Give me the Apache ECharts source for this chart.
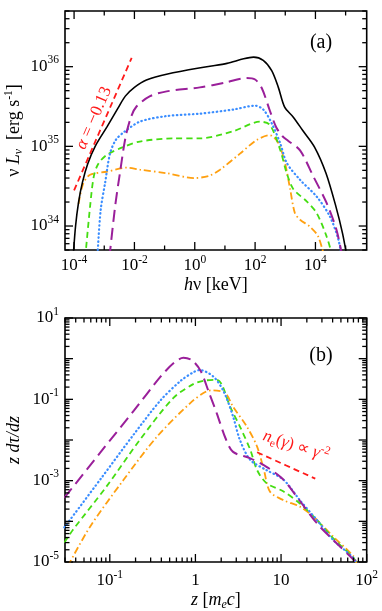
<!DOCTYPE html>
<html>
<head>
<meta charset="utf-8">
<script src="https://cdn.jsdelivr.net/npm/echarts@6/dist/echarts.min.js"></script>
<style>
  html, body { margin: 0; padding: 0; background: #fff; }
  #chart { width: 382px; height: 611px; }
</style>
</head>
<body>
<div id="chart"></div>
<script>
// ---------- panel (a): nu L_nu [erg/s] vs h nu [keV] ----------
var specBlack = [[9.3e-5,4.0e33],[1.12e-4,1.0e34],[1.41e-4,2.0e34],[1.9e-4,3.55e34],[2.82e-4,6.0e34],[5.0e-4,1.0e35],[1.26e-3,1.78e35],[2.82e-3,3.0e35],[5.0e-3,4.27e35],[1.0e-2,5.5e35],[2.5e-2,6.8e35],[0.126,8.1e35],[2.5,1.0e36],[11.7,1.1e36],[41.7,1.26e36],[89,1.32e36],[186,1.2e36],[355,8.9e35],[589,5.5e35],[955,3.1e35],[1820,2.34e35],[3800,1.58e35],[9330,9.8e34],[2.24e4,4.6e34],[4.8e4,1.74e34],[7.9e4,8.1e33],[1.12e5,4.0e33]];
var specPurple = [[1.48e-3,4.0e33],[2.3e-3,1.78e34],[3.3e-3,4.6e34],[5.0e-3,1.26e35],[7.6e-3,2.3e35],[1.17e-2,3.16e35],[3.3e-2,4.27e35],[0.117,4.9e35],[1.48,5.5e35],[10,6.3e35],[52,7.2e35],[100,6.9e35],[166,5.4e35],[309,2.8e35],[500,1.74e35],[794,1.35e35],[1260,1.17e35],[3090,8.9e34],[8500,4.2e34],[2.34e4,1.95e34],[5.0e4,8.9e33],[7.9e4,4.0e33]];
var specBlue = [[5.9e-4,4.0e33],[7.6e-4,1.58e34],[1.07e-3,3.5e34],[1.55e-3,8.1e34],[2.4e-3,1.2e35],[4.5e-3,1.51e35],[1.51e-2,2.04e35],[0.117,2.4e35],[1.48,2.57e35],[19,2.9e35],[100,3.24e35],[186,2.9e35],[355,1.95e35],[676,1.1e35],[1120,6.2e34],[3090,3.8e34],[1.1e4,2.34e34],[3.0e4,1.32e34],[5.75e4,6.8e33],[7.4e4,4.0e33]];
var specGreen = [[2.34e-4,4.0e33],[3.4e-4,1.78e34],[4.5e-4,4.2e34],[6.3e-4,6.0e34],[1.2e-3,7.8e34],[4.3e-3,9.8e34],[1.51e-2,1.15e35],[0.195,1.26e35],[1.48,1.26e35],[19,1.55e35],[145,2.04e35],[309,1.86e35],[676,9.1e34],[1120,4.6e34],[1860,2.9e34],[5130,2.04e34],[1.1e4,1.45e34],[2.34e4,7.4e33],[3.8e4,4.0e33]];
var specOrange = [[1.41e-4,1.9e34],[2.0e-4,3.4e34],[3.4e-4,4.4e34],[1.2e-3,4.8e34],[5.5e-3,5.4e34],[1.51e-2,5.1e34],[0.117,4.6e34],[1.0,4.0e34],[3.16,4.3e34],[6.9,5.1e34],[31.6,8.1e34],[112,1.2e35],[309,1.38e35],[589,1.1e35],[977,6.2e34],[1450,2.9e34],[2090,1.45e34],[3090,1.2e34],[6600,9.8e33],[1.23e4,7.4e33],[2.0e4,4.0e33]];
var specSlope = [[1e-4,2.8e34],[8.1e-3,1.29e36]];

// ---------- panel (b): z dtau/dz vs z [m_e c] ----------
var distPurple = [[0.0295,3.8e-4],[0.0794,5.25e-3],[0.191,5.25e-2],[0.389,0.355],[0.562,0.794],[0.724,1.05],[0.912,0.912],[1.15,0.50],[1.45,0.141],[1.78,4.47e-2],[2.24,1.12e-2],[2.75,5.1e-3],[4.37,3.55e-3],[6.76,2.19e-3],[10.7,1.05e-3],[16.6,3.16e-4],[26.3,8.9e-5],[40.7,3.47e-5],[70.8,1.12e-5],[75.9,8.9e-6]];
var distBlue = [[0.0295,7.1e-5],[0.0794,1.15e-3],[0.191,1.38e-2],[0.389,9.3e-2],[0.676,0.288],[0.955,0.468],[1.12,0.525],[1.62,0.363],[2.14,0.155],[2.75,3.8e-2],[3.31,1.0e-2],[4.37,3.24e-3],[6.76,1.82e-3],[10.7,1.05e-3],[16.6,3.3e-4],[26.3,1.07e-4],[40.7,3.47e-5],[70.8,1.23e-5],[75.9,8.9e-6]];
var distGreen = [[0.0295,3.0e-5],[0.0372,6.2e-5],[0.0912,7.1e-4],[0.224,1.0e-2],[0.55,0.107],[0.955,0.24],[1.26,0.288],[1.78,0.302],[2.04,0.229],[2.54,6.6e-2],[3.31,2.14e-2],[4.37,5.75e-3],[5.25,1.82e-3],[6.76,8.7e-4],[10.7,5.4e-4],[16.6,2.75e-4],[26.3,1.07e-4],[40.7,3.8e-5],[70.8,1.23e-5],[75.9,8.9e-6]];
var distOrange = [[0.0324,7.9e-6],[0.0589,7.4e-5],[0.145,1.05e-3],[0.355,1.2e-2],[0.871,8.1e-2],[1.35,0.158],[1.62,0.166],[2.24,0.141],[2.75,6.6e-2],[3.98,2.14e-2],[5.25,6.9e-3],[6.31,1.82e-3],[7.41,5.4e-4],[10.7,3.3e-4],[16.6,2.3e-4],[24.0,1.29e-4],[40.7,4.2e-5],[70.8,1.35e-5],[75.9,8.9e-6]];
var distSlope = [[5.25,5.0e-3],[25.1,1.12e-3]];

// ---------- axes: ranges, ticks, labels ----------
var topX = [5e-5, 5e5], topY = [5e33, 5e36];
var botX = [0.03, 100], botY = [1e-5, 10];
var topXTicks = [1e-4, 1e-3, 1e-2, 1e-1, 1, 1e1, 1e2, 1e3, 1e4, 1e5];
var topXLabels = { '0.0001': ['10', '-4'], '0.01': ['10', '-2'], '1': ['10', '0'], '100': ['10', '2'], '10000': ['10', '4'] };
var topYDecades = [1e33, 1e34, 1e35, 1e36];
var topYLabels = { '1e+34': ['10', '34'], '1e+35': ['10', '35'], '1e+36': ['10', '36'] };
var botXDecades = [0.01, 0.1, 1, 10, 100];
var botXLabels = { '0.1': ['10', '-1'], '1': ['1', ''], '10': ['10', ''], '100': ['10', '2'] };
var botYDecades = [1e-6, 1e-5, 1e-4, 1e-3, 1e-2, 1e-1, 1, 10];
var botYLabels = { '10': ['10', '1'], '0.1': ['10', '-1'], '0.001': ['10', '-3'], '0.00001': ['10', '-5'] };
var minorMult = [2, 3, 4, 5, 6, 7, 8, 9];

var SERIF = '"Liberation Serif", "Times New Roman", Times, serif';

function inRange(v, r) { return v >= r[0] * 0.9999 && v <= r[1] * 1.0001; }
function key(v) { return String(v); }

// decade ticks (major) + 2..9 multiples (minor)
function buildTicks(axis, decades, range, labels, otherMin, minorOn) {
  var out = [];
  decades.forEach(function (d) {
    if (inRange(d, range)) {
      out.push({ axis: axis, v: d, major: true, label: labels[key(d)] || null, other: otherMin });
    }
    if (minorOn) {
      minorMult.forEach(function (m) {
        var v = d * m;
        if (inRange(v, range)) out.push({ axis: axis, v: v, major: false, label: null, other: otherMin });
      });
    }
  });
  return out;
}

var topTicks = [];
topXTicks.forEach(function (v) {
  var lab = topXLabels[key(v)] || null;
  topTicks.push({ axis: 'x', v: v, major: !!lab, label: lab, other: topY[0] });
});
topTicks = topTicks.concat(buildTicks('y', topYDecades, topY, topYLabels, topX[0], true));

var botTicks = buildTicks('x', botXDecades, botX, botXLabels, botY[0], true)
  .concat(buildTicks('y', botYDecades, botY, botYLabels, botX[0], true));

var tickRich = {
  b: { fontFamily: SERIF, fontSize: 17, lineHeight: 25, fill: '#000' },
  s: { fontFamily: SERIF, fontSize: 11.5, lineHeight: 11, verticalAlign: 'top', fill: '#000' }
};

function labelText(l) {
  return '{b|' + l[0] + '}' + (l[1] ? '{s|' + l[1] + '}' : '');
}

function tickSeries(idx, items, xGap) {
  return {
    type: 'custom',
    xAxisIndex: idx, yAxisIndex: idx,
    silent: true, clip: false, z: 20,
    data: items.map(function (t) { return t.axis === 'x' ? [t.v, t.other] : [t.other, t.v]; }),
    renderItem: function (params, api) {
      var t = items[params.dataIndex];
      var cs = params.coordSys;
      var p = api.coord(t.axis === 'x' ? [t.v, t.other] : [t.other, t.v]);
      var len = t.major ? 8 : 4.5;
      var st = { stroke: '#000', lineWidth: 1.3 };
      var ch = [];
      if (t.axis === 'x') {
        var b = cs.y + cs.height, tp = cs.y;
        ch.push({ type: 'line', shape: { x1: p[0], y1: b, x2: p[0], y2: b - len }, style: st });
        ch.push({ type: 'line', shape: { x1: p[0], y1: tp, x2: p[0], y2: tp + len }, style: st });
        if (t.label) {
          ch.push({ type: 'text', style: { text: labelText(t.label), x: p[0], y: b + xGap, align: 'center', verticalAlign: 'middle', rich: tickRich, fill: '#000' } });
        }
      } else {
        var l = cs.x, r = cs.x + cs.width;
        ch.push({ type: 'line', shape: { x1: l, y1: p[1], x2: l + len, y2: p[1] }, style: st });
        ch.push({ type: 'line', shape: { x1: r, y1: p[1], x2: r - len, y2: p[1] }, style: st });
        if (t.label) {
          ch.push({ type: 'text', style: { text: labelText(t.label), x: l - 6, y: p[1], align: 'right', verticalAlign: 'middle', rich: tickRich, fill: '#000' } });
        }
      }
      return { type: 'group', children: ch };
    }
  };
}

var nameRich = {
  n: { fontFamily: SERIF, fontSize: 18, lineHeight: 22, color: '#000' },
  i: { fontFamily: SERIF, fontSize: 18, fontStyle: 'italic', lineHeight: 22, color: '#000' },
  isub: { fontFamily: SERIF, fontSize: 12, fontStyle: 'italic', lineHeight: 12, verticalAlign: 'bottom', color: '#000' },
  sup: { fontFamily: SERIF, fontSize: 11.5, lineHeight: 11, verticalAlign: 'top', color: '#000' }
};

function axisBase(idx, range, name, gap) {
  return {
    type: 'log', logBase: 10, gridIndex: idx,
    min: range[0], max: range[1],
    axisLine: { show: false }, axisTick: { show: false },
    axisLabel: { show: false }, splitLine: { show: false },
    name: name, nameLocation: 'middle', nameGap: gap,
    nameTextStyle: { rich: nameRich }
  };
}

function line(name, idx, data, color, width, dash, cap) {
  return {
    name: name, type: 'line', xAxisIndex: idx, yAxisIndex: idx,
    data: data, showSymbol: false, symbol: 'none', smooth: 0.3,
    lineStyle: { color: color, width: width, type: dash, cap: cap || 'butt' },
    z: 5
  };
}

var C = { black: '#000000', purple: '#9a1f9a', blue: '#3a8dff', green: '#44dd11', orange: '#ffa010', red: '#ff1a1a' };
var D = { purple: [12, 6], blue: [0.5, 3.5], green: [6, 4], orange: [7, 3, 1.5, 3], red: [6, 4] };

var chart = echarts.init(document.getElementById('chart'), null, { renderer: 'canvas' });

chart.setOption({
  animation: false,
  backgroundColor: '#fff',
  grid: [
    { left: 65, right: 15.3, top: 11, height: 239, show: true, borderColor: '#000', borderWidth: 1.6, outerBoundsMode: 'none' },
    { left: 65, right: 15.3, top: 318, height: 244, show: true, borderColor: '#000', borderWidth: 1.6, outerBoundsMode: 'none' }
  ],
  xAxis: [
    axisBase(0, topX, '{i|h}{n|ν [keV]}', 24),
    axisBase(1, botX, '{i|z}{n| [}{i|m}{isub|e}{i|c}{n|]}', 27)
  ],
  yAxis: [
    axisBase(0, topY, '{n|ν }{i|L}{isub|ν}{n|  [erg s}{sup|-1}{n|]}', 40),
    axisBase(1, botY, '{i|z dτ/dz}', 40)
  ],
  series: [
    line('orange', 0, specOrange, C.orange, 1.8, D.orange),
    line('green', 0, specGreen, C.green, 1.8, D.green),
    line('blue', 0, specBlue, C.blue, 2.2, D.blue, 'round'),
    line('purple', 0, specPurple, C.purple, 2, D.purple),
    line('black', 0, specBlack, C.black, 1.6, 'solid'),
    line('slope', 0, specSlope, C.red, 1.8, D.red),
    line('orange', 1, distOrange, C.orange, 1.8, D.orange),
    line('green', 1, distGreen, C.green, 1.8, D.green),
    line('blue', 1, distBlue, C.blue, 2.2, D.blue, 'round'),
    line('purple', 1, distPurple, C.purple, 2, D.purple),
    line('slope', 1, distSlope, C.red, 1.8, D.red),
    tickSeries(0, topTicks, 16),
    tickSeries(1, botTicks, 19)
  ],
  graphic: [
    { type: 'text', x: 321, y: 43, style: { text: '(a)', font: '20px ' + SERIF, align: 'center', verticalAlign: 'middle', fill: '#000' } },
    { type: 'text', x: 321, y: 356, style: { text: '(b)', font: '20px ' + SERIF, align: 'center', verticalAlign: 'middle', fill: '#000' } },
    {
      type: 'text', x: 94, y: 118, rotation: 66.5 * Math.PI / 180,
      style: {
        text: '{i|α}{n| = −0.13}', align: 'center', verticalAlign: 'middle', fill: C.red,
        rich: {
          i: { fontFamily: SERIF, fontSize: 17, fontStyle: 'italic', fill: C.red },
          n: { fontFamily: SERIF, fontSize: 17, fill: C.red }
        }
      }
    },
    {
      type: 'text', x: 296, y: 446, rotation: -18 * Math.PI / 180,
      style: {
        text: '{i|n}{sub|e}{n|(}{i|γ}{n|) ∝ }{i|γ}{sup|-2}', align: 'center', verticalAlign: 'middle', fill: C.red,
        rich: {
          i: { fontFamily: SERIF, fontSize: 17, fontStyle: 'italic', lineHeight: 22, fill: C.red },
          n: { fontFamily: SERIF, fontSize: 17, lineHeight: 22, fill: C.red },
          sub: { fontFamily: SERIF, fontSize: 11.5, lineHeight: 11, verticalAlign: 'bottom', fill: C.red },
          sup: { fontFamily: SERIF, fontSize: 11.5, lineHeight: 11, verticalAlign: 'top', fill: C.red }
        }
      }
    }
  ]
});

window.addEventListener('resize', function () { chart.resize(); });
</script>
</body>
</html>
